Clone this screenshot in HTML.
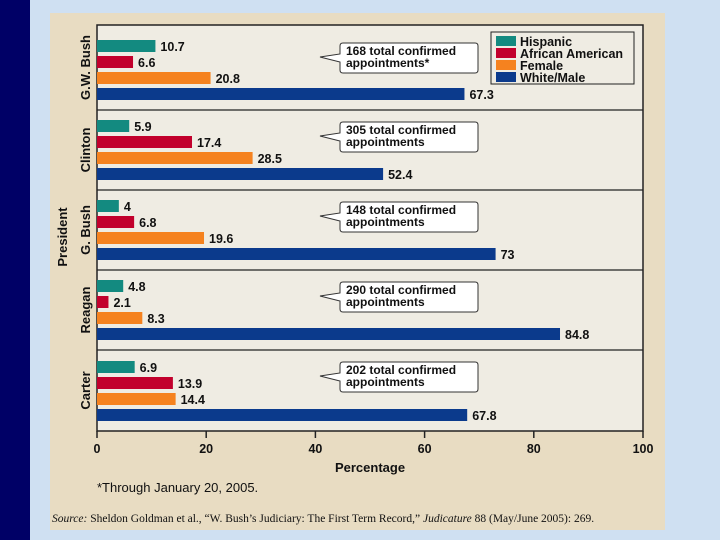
<!DOCTYPE html>
<html><head><meta charset="utf-8"><style>
body{margin:0;width:720px;height:540px;overflow:hidden;background:#cfe0f2;font-family:"Liberation Sans",sans-serif}
svg{display:block}
</style></head><body>
<svg id="c" width="720" height="540" xmlns="http://www.w3.org/2000/svg">
<rect x="0" y="0" width="30" height="540" fill="#000066"/>
<rect x="50" y="13" width="615" height="517" fill="#e8dcc2"/>
<rect x="97" y="25" width="546" height="406" fill="#efece3" stroke="#222" stroke-width="1.5"/>
<g>
<rect x="491" y="32" width="143" height="52" fill="#efece3" stroke="#222" stroke-width="1"/>
</g>
<g id="g"></g>
<text x="370" y="472" font-size="13" font-weight="bold" text-anchor="middle" fill="#111">Percentage</text>
<text x="67" y="237" font-size="13" font-weight="bold" text-anchor="middle" fill="#111" transform="rotate(-90 67 237)">President</text>
<text x="97" y="492" font-size="13" fill="#111">*Through January 20, 2005.</text>
<text x="52" y="522" font-size="11.5" fill="#111" font-family="Liberation Serif,serif"><tspan font-style="italic">Source:</tspan> Sheldon Goldman et al., “W. Bush’s Judiciary: The First Term Record,” <tspan font-style="italic">Judicature</tspan> 88 (May/June 2005): 269.</text>
</svg>
<script>
const presidents=["G.W. Bush","Clinton","G. Bush","Reagan","Carter"];
const series=["Hispanic","African American","Female","White/Male"];
const hispanic=[10.7,5.9,4,4.8,6.9];
const african=[6.6,17.4,6.8,2.1,13.9];
const female=[20.8,28.5,19.6,8.3,14.4];
const white=[67.3,52.4,73,84.8,67.8];
const totals=["168 total confirmed appointments*","305 total confirmed appointments","148 total confirmed appointments","290 total confirmed appointments","202 total confirmed appointments"];
const ticks=[0,20,40,60,80,100];
const colors=["#138a80","#c2002c","#f5821f","#0b3a8c"];
const vals=[hispanic,african,female,white];
const NS="http://www.w3.org/2000/svg";
const g=document.getElementById('g');
const X0=97,X1=643;
const xs=v=>X0+(v/100)*(X1-X0);
const bounds=[25,110,190,270,350,431];
function mk(t,a,txt){const e=document.createElementNS(NS,t);for(const k in a)e.setAttribute(k,a[k]);if(txt!=null)e.textContent=txt;g.appendChild(e);return e;}
presidents.forEach((p,i)=>{
  const top=bounds[i],bot=bounds[i+1];
  if(i>0){const l=mk('line',{x1:X0,x2:X1,y1:top,y2:top,stroke:'#222','stroke-width':1.2});
    
    }
  const lab=mk('text',{x:0,y:0,'font-size':13,'font-weight':'bold','text-anchor':'middle',fill:'#111',transform:`translate(90 ${(top+bot)/2}) rotate(-90)`},p);
  
  
  for(let s=0;s<4;s++){
    const y=bot-22-(3-s)*16;
    const v=vals[s][i];
    const r=mk('rect',{x:X0,y:y,width:xs(v)-X0,height:12,fill:colors[s]});
    
    
    const t=mk('text',{x:xs(v)+5,y:y+11,'font-size':12.5,'font-weight':'bold',fill:'#111'},String(v));
    
    
  }
  const by=top+(i==0?18:12);
  const c=mk('path',{d:`M340 ${by+3} q0 -3 3 -3 h132 q3 0 3 3 v24 q0 3 -3 3 h-132 q-3 0 -3 -3 v-8 l-20 -5 l20 -3 z`,fill:'#fff',stroke:'#333','stroke-width':1});
  
  
  const parts=totals[i].split(' appointments');
  const t1=mk('text',{x:346,y:by+12,'font-size':12,'font-weight':'bold',fill:'#111'},parts[0]);
  
  
  const t2=mk('text',{x:346,y:by+24,'font-size':12,'font-weight':'bold',fill:'#111'},'appointments'+parts[1]);
  
  
});
ticks.forEach(t=>{
  const l=mk('line',{x1:xs(t),x2:xs(t),y1:431,y2:438,stroke:'#222','stroke-width':1.5});
  
  
  const tx=mk('text',{x:xs(t),y:453,'font-size':12.5,'font-weight':'bold','text-anchor':'middle',fill:'#111'},String(t));
  
  
});
series.forEach((s,k)=>{
  const y=36+k*12;
  const r=mk('rect',{x:496,y:y,width:20,height:10,fill:colors[k]});
  
  
  const t=mk('text',{x:520,y:y+10,'font-size':12.5,'font-weight':'bold',fill:'#111'},s);
  
  
});
</script>
</body></html>
